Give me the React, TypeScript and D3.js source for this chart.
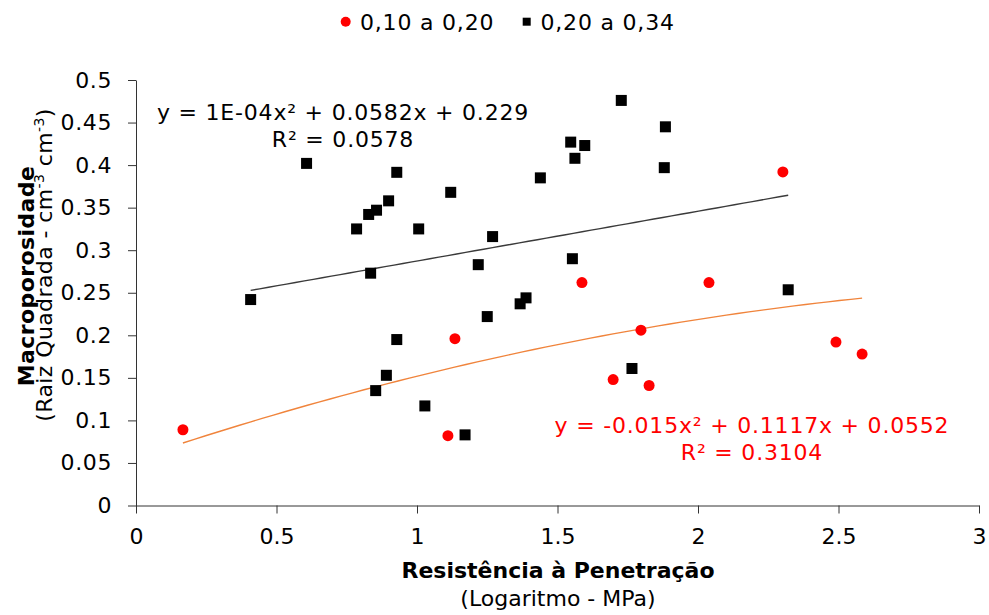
import { useRef, useEffect } from 'react';
import * as d3 from 'd3';

// série 0,10 a 0,20 (círculos vermelhos)
const redX = [0.167, 1.135, 1.11, 1.587, 1.797, 1.698, 1.826, 2.039, 2.302, 2.491, 2.584];
const redY = [0.089, 0.196, 0.082, 0.262, 0.206, 0.148, 0.141, 0.262, 0.392, 0.192, 0.178];

// série 0,20 a 0,34 (quadrados pretos)
const blackX = [
  0.408, 0.607, 0.785, 0.828, 0.835, 0.853, 0.856, 0.891, 0.899, 0.928, 0.928, 1.006, 1.028, 1.12, 1.171,
  1.218, 1.25, 1.269, 1.367, 1.388, 1.439, 1.547, 1.553, 1.562, 1.597, 1.727, 1.765, 1.88, 1.884, 2.321,
];
const blackY = [
  0.242, 0.402, 0.325, 0.342, 0.273, 0.135, 0.347, 0.153, 0.358, 0.3915, 0.195, 0.325, 0.117, 0.368, 0.083,
  0.283, 0.222, 0.316, 0.237, 0.244, 0.385, 0.427, 0.29, 0.408, 0.423, 0.476, 0.161, 0.397, 0.445, 0.2535,
];

// coeficientes das linhas de tendência (a, b, c) de y = ax² + bx + c
const redFit = [-0.015, 0.1117, 0.0552];
const blackFit = [0.0001, 0.0582, 0.229];

const legendLabels = ['0,10 a 0,20', '0,20 a 0,34'];
const xTicks = [0, 0.5, 1, 1.5, 2, 2.5, 3];
const yTicks = [0, 0.05, 0.1, 0.15, 0.2, 0.25, 0.3, 0.35, 0.4, 0.45, 0.5];

const FONT = 'DejaVu Sans, Verdana, sans-serif';
const LS = '0.8px'; // Verdana é um pouco mais larga que DejaVu

function App() {
  const svgRef = useRef(null);
  const width = 989;
  const height = 615;

  useEffect(() => {
    const svg = d3.select(svgRef.current);
    svg.selectAll('*').remove();
    svg.style('font-family', FONT);

    const x = d3.scaleLinear().domain([0, 3]).range([136, 979]);
    const y = d3.scaleLinear().domain([0, 0.5]).range([505.5, 80]);

    const fmt = (d) => String(+d.toFixed(2));

    // eixos
    const gx = svg
      .append('g')
      .attr('transform', `translate(0,${y(0)})`)
      .call(d3.axisBottom(x).tickValues(xTicks).tickFormat(fmt).tickSize(8).tickPadding(15).tickSizeOuter(0));
    gx.selectAll('text').style('font-size', '22px').attr('fill', '#000').style('font-family', FONT);
    gx.selectAll('line, path').attr('stroke', '#333');

    const gy = svg
      .append('g')
      .attr('transform', `translate(${x(0)},0)`)
      .call(d3.axisLeft(y).tickValues(yTicks).tickFormat(fmt).tickSize(8).tickPadding(16).tickSizeOuter(0));
    gy.selectAll('text')
      .style('font-size', '22px')
      .style('letter-spacing', '0.6px')
      .attr('fill', '#000')
      .style('font-family', FONT);
    gy.selectAll('line, path').attr('stroke', '#333');

    // títulos dos eixos
    svg
      .append('text')
      .attr('x', 558)
      .attr('y', 578)
      .attr('text-anchor', 'middle')
      .attr('font-weight', 'bold')
      .style('font-size', '22px')
      .text('Resistência à Penetração');

    svg
      .append('text')
      .attr('x', 558)
      .attr('y', 606)
      .attr('text-anchor', 'middle')
      .style('font-size', '22px')
      .text('(Logaritmo - MPa)');

    svg
      .append('text')
      .attr('transform', 'translate(34,276) rotate(-90)')
      .attr('text-anchor', 'middle')
      .attr('font-weight', 'bold')
      .style('font-size', '22px')
      .style('letter-spacing', '0.4px')
      .text('Macroporosidade');

    const sub = svg
      .append('text')
      .attr('transform', 'translate(52,265) rotate(-90)')
      .attr('text-anchor', 'middle')
      .style('font-size', '22px')
      .style('letter-spacing', '0.4px');
    sub.append('tspan').text('(Raiz Quadrada - cm');
    sub.append('tspan').attr('dy', -8).style('font-size', '14px').text('-3');
    sub.append('tspan').attr('dy', 8).text(' cm');
    sub.append('tspan').attr('dy', -8).style('font-size', '14px').text('-3');
    sub.append('tspan').attr('dy', 8).text(')');

    // linhas de tendência
    const poly = (c) => (v) => c[0] * v * v + c[1] * v + c[2];
    const trend = (xs, c, color, w) => {
      const f = poly(c);
      const [lo, hi] = d3.extent(xs);
      const pts = d3.range(0, 61).map((i) => lo + ((hi - lo) * i) / 60);
      svg
        .append('path')
        .datum(pts)
        .attr('fill', 'none')
        .attr('stroke', color)
        .attr('stroke-width', w)
        .attr(
          'd',
          d3
            .line()
            .x((v) => x(v))
            .y((v) => y(f(v)))
        );
    };
    trend(blackX, blackFit, '#3a3a3a', 1.4);
    trend(redX, redFit, '#f0843c', 1.4);

    // pontos
    const blackData = blackX.map((v, i) => [v, blackY[i]]);
    const redData = redX.map((v, i) => [v, redY[i]]);
    const sq = 11;

    svg
      .append('g')
      .selectAll('rect')
      .data(blackData)
      .join('rect')
      .attr('x', (d) => x(d[0]) - sq / 2)
      .attr('y', (d) => y(d[1]) - sq / 2)
      .attr('width', sq)
      .attr('height', sq)
      .attr('fill', '#000');

    svg
      .append('g')
      .selectAll('circle')
      .data(redData)
      .join('circle')
      .attr('cx', (d) => x(d[0]))
      .attr('cy', (d) => y(d[1]))
      .attr('r', 5.5)
      .attr('fill', '#ff0000');

    // equações
    const eq = (cx, y1, y2, l1, l2, color) => {
      [
        [y1, l1],
        [y2, l2],
      ].forEach(([yy, t]) => {
        svg
          .append('text')
          .attr('x', cx)
          .attr('y', yy)
          .attr('text-anchor', 'middle')
          .attr('fill', color)
          .style('font-size', '22px')
          .style('letter-spacing', LS)
          .text(t);
      });
    };
    eq(343, 120, 147, 'y = 1E-04x² + 0.0582x + 0.229', 'R² = 0.0578', '#000');
    eq(752, 433, 460, 'y = -0.015x² + 0.1117x + 0.0552', 'R² = 0.3104', '#ff0000');

    // legenda
    const legend = svg.append('g');
    legend.append('circle').attr('cx', 345.7).attr('cy', 21.7).attr('r', 5).attr('fill', '#ff0000');
    legend
      .append('text')
      .attr('x', 360)
      .attr('y', 29.5)
      .style('font-size', '22px')
      .style('letter-spacing', LS)
      .text(legendLabels[0]);
    legend.append('rect').attr('x', 522.7).attr('y', 17.7).attr('width', 8).attr('height', 8).attr('fill', '#000');
    legend
      .append('text')
      .attr('x', 540.5)
      .attr('y', 29.5)
      .style('font-size', '22px')
      .style('letter-spacing', LS)
      .text(legendLabels[1]);
  }, []);

  return (
    <svg
      ref={svgRef}
      width={width}
      height={height}
      style={{ position: 'absolute', left: 0, top: 0, background: '#fff' }}
    ></svg>
  );
}

export default App;
